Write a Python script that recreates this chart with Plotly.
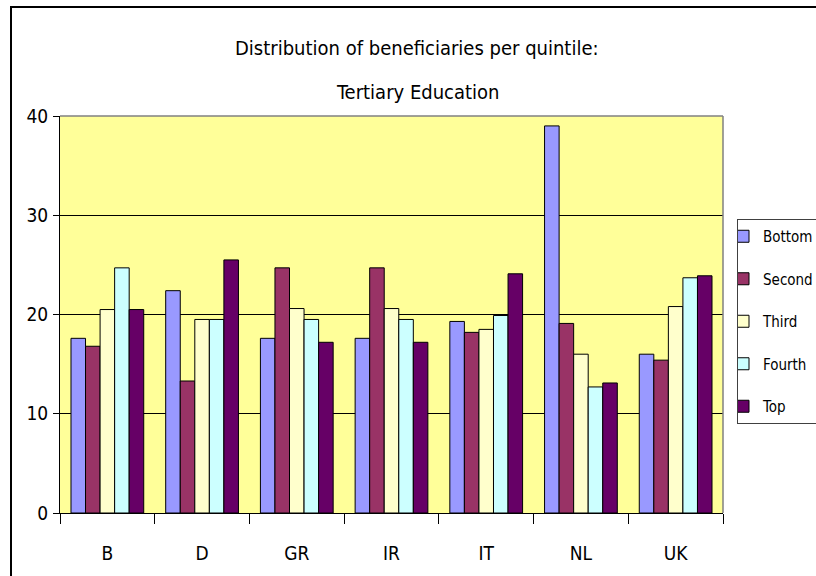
import plotly.graph_objects as go

countries = ["B", "D", "GR", "IR", "IT", "NL", "UK"]
series_names = ["Bottom", "Second", "Third", "Fourth", "Top"]
bottom = [17.6, 22.4, 17.6, 17.6, 19.3, 39.0, 16.0]
second = [16.8, 13.3, 24.7, 24.7, 18.2, 19.1, 15.4]
third = [20.5, 19.5, 20.6, 20.6, 18.5, 16.0, 20.8]
fourth = [24.7, 19.5, 19.5, 19.5, 19.9, 12.7, 23.7]
top = [20.5, 25.5, 17.2, 17.2, 24.1, 13.1, 23.9]
colors = ["#9999FF", "#993366", "#FFFFCC", "#CCFFFF", "#660066"]
y_ticks = [0, 10, 20, 30, 40]
title_lines = ["Distribution of beneficiaries per quintile:", "Tertiary Education"]

FONT = "DejaVu Sans Condensed, Liberation Sans, sans-serif"

fig = go.Figure()
for name, vals, col in zip(series_names, [bottom, second, third, fourth, top], colors):
    fig.add_trace(go.Bar(
        x=countries, y=vals, name=name, legendgroup=name,
        marker=dict(color=col, line=dict(color="black", width=1)),
    ))

W, H = 816, 576
L, R, T, B = 60, 723, 116, 513

def px_x(x):
    return (x - L) / (R - L)

def px_y(y):
    return (B - y) / (B - T)

fig.update_layout(
    width=W, height=H,
    margin=dict(l=L, r=W - R, t=T, b=H - B, pad=0, autoexpand=False),
    paper_bgcolor="white",
    plot_bgcolor="#FFFF99",
    barmode="group",
    bargap=0.232,
    bargroupgap=0,
    font=dict(family=FONT, color="black"),
    showlegend=True,
    legend=dict(
        x=px_x(737), y=px_y(219), xanchor="left", yanchor="top",
        font=dict(family=FONT, size=15, color="black"),
        bgcolor="white", bordercolor="#404040", borderwidth=1,
        traceorder="grouped", tracegroupgap=20,
        indentation=-15,
    ),
    xaxis=dict(
        showgrid=False, showline=True, linecolor="black", linewidth=1,
        ticks="outside", tickson="boundaries", ticklen=10, tickcolor="black",
        tickfont=dict(family=FONT, size=19, color="black"),
        ticklabelstandoff=23,
    ),
    yaxis=dict(
        range=[0, 40], tickvals=y_ticks, showgrid=True, gridcolor="black", gridwidth=1,
        showline=True, linecolor="black", linewidth=1,
        ticks="outside", ticklen=6, tickcolor="black",
        tickfont=dict(family=FONT, size=19, color="black"),
        ticklabelstandoff=1, zeroline=False,
    ),
)

fig.add_shape(type="line", xref="paper", yref="paper", x0=0, x1=1, y0=1, y1=1,
              line=dict(color="#808080", width=1.5), layer="above")
fig.add_shape(type="line", xref="paper", yref="paper", x0=1, x1=1, y0=0, y1=1,
              line=dict(color="#808080", width=1.5), layer="above")
fig.add_shape(type="rect", xref="paper", yref="paper",
              x0=px_x(11), x1=px_x(840), y0=px_y(600), y1=px_y(7),
              line=dict(color="black", width=2), fillcolor="rgba(0,0,0,0)", layer="below")

for text, yc in zip(title_lines, [48, 92]):
    fig.add_annotation(text=text, xref="paper", yref="paper", x=px_x(417), y=px_y(yc),
                       xanchor="center", yanchor="middle", showarrow=False,
                       font=dict(family=FONT, size=20, color="black"))

fig.write_html("out.html", config={"displayModeBar": False},
               post_script="document.body.style.margin='0';")
